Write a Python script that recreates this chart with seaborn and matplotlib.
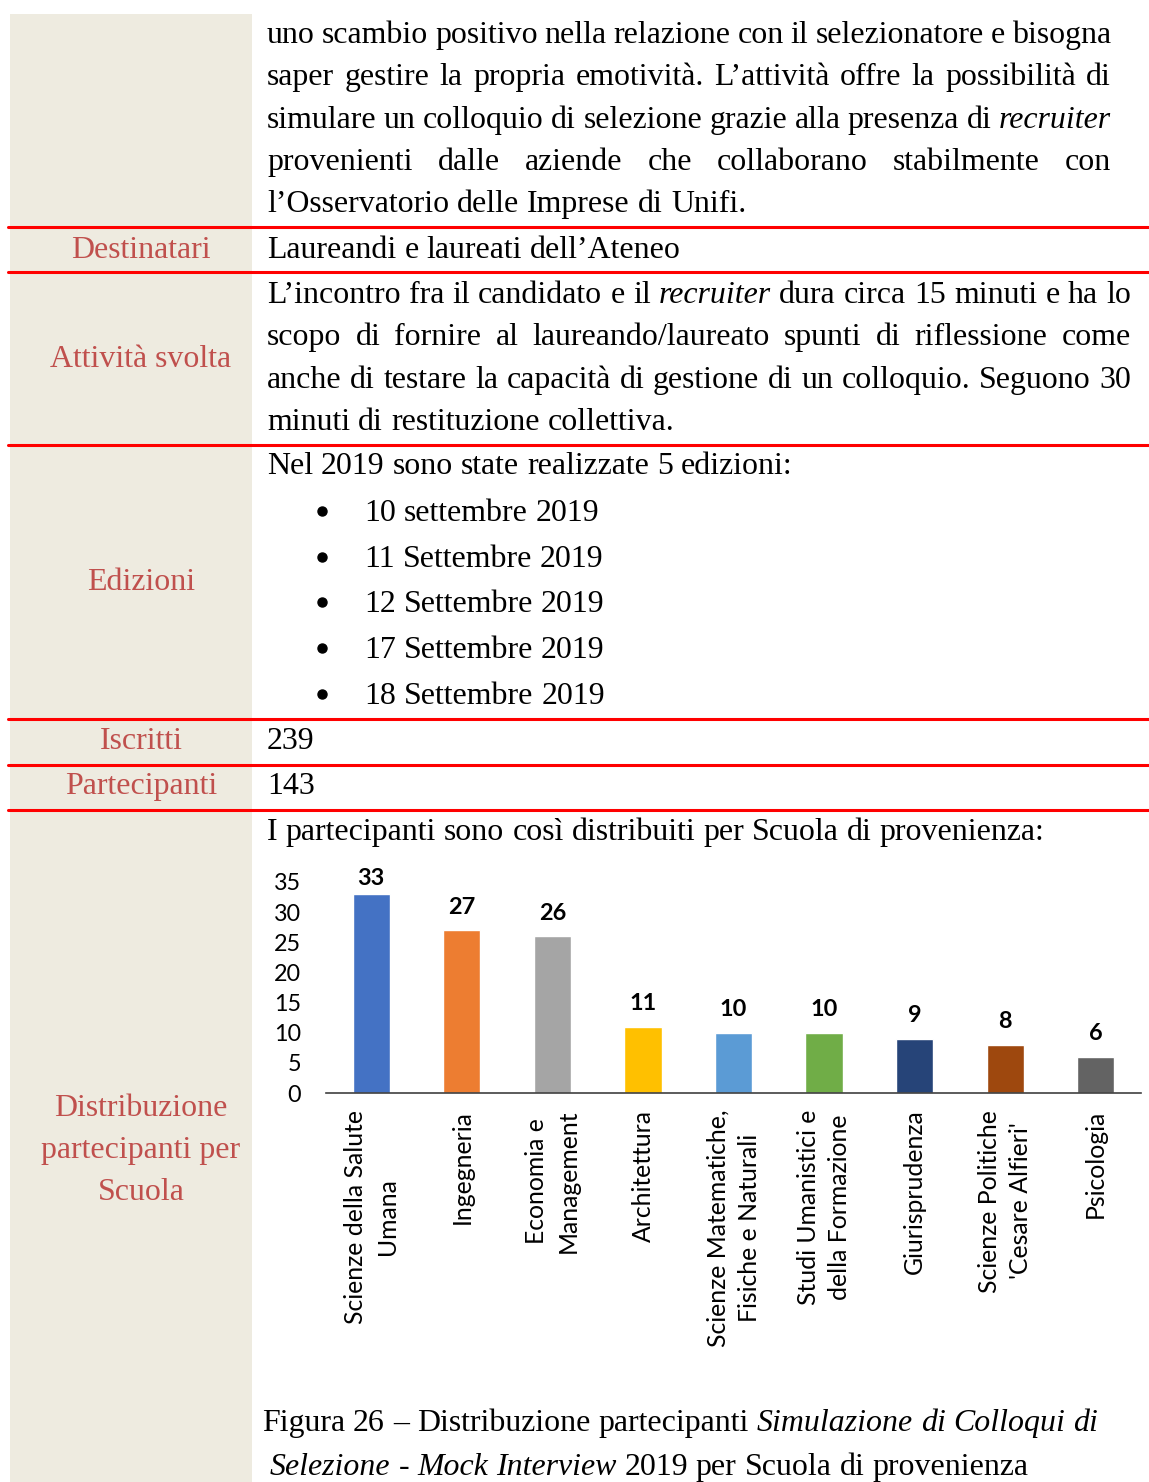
import matplotlib
matplotlib.use("Agg")
import matplotlib.pyplot as plt
from matplotlib.patches import Rectangle
import pandas as pd
import seaborn as sns

# dati del grafico
scuole = ["Scienze della Salute\nUmana", "Ingegneria", "Economia e\nManagement",
          "Architettura", "Scienze Matematiche,\nFisiche e Naturali",
          "Studi Umanistici e\ndella Formazione", "Giurisprudenza",
          "Scienze Politiche\n'Cesare Alfieri'", "Psicologia"]
partecipanti = [33, 27, 26, 11, 10, 10, 9, 8, 6]
colori = ["#4472C4", "#ED7D31", "#A5A5A5", "#FFC000", "#5B9BD5",
          "#70AD47", "#264478", "#9E480E", "#636363"]
y_ticks = [0, 5, 10, 15, 20, 25, 30, 35]

# testo della tabella (*...* = corsivo)
paragrafo_1 = ["uno scambio positivo nella relazione con il selezionatore e bisogna",
               "saper gestire la propria emotività. L’attività offre la possibilità di",
               "simulare un colloquio di selezione grazie alla presenza di *recruiter*",
               "provenienti dalle aziende che collaborano stabilmente con",
               "l’Osservatorio delle Imprese di Unifi."]
paragrafo_2 = ["L’incontro fra il candidato e il *recruiter* dura circa 15 minuti e ha lo",
               "scopo di fornire al laureando/laureato spunti di riflessione come",
               "anche di testare la capacità di gestione di un colloquio. Seguono 30",
               "minuti di restituzione collettiva."]
edizioni = ["10 settembre 2019", "11 Settembre 2019", "12 Settembre 2019",
            "17 Settembre 2019", "18 Settembre 2019"]
didascalia = ["Figura 26 – Distribuzione partecipanti *Simulazione di Colloqui di*",
              "*Selezione - Mock Interview* 2019 per Scuola di provenienza"]

SERIF = ["Liberation Serif", "DejaVu Serif"]
ROSSO = "#C0504D"

sns.set_theme(style="white")
plt.rcParams["font.family"] = ["Lato", "DejaVu Sans"]

W, H = 1149, 1482
fig = plt.figure(figsize=(W / 100, H / 100), dpi=100)
page = fig.add_axes([0, 0, 1, 1])
page.set_xlim(0, W)
page.set_ylim(H, 0)
page.axis("off")
renderer = fig.canvas.get_renderer()


def larghezza(s, size, **kw):
    t = page.text(0, 0, s, fontsize=size, **kw)
    w = t.get_window_extent(renderer).width
    t.remove()
    return w


def adatta(s, target, **kw):
    return 20 * target / larghezza(s, 20, **kw)


def riga(testo, x0, y, size, x1=None):
    parole = []
    corsivo = False
    for p in testo.split():
        if p.startswith("*"):
            corsivo = True
            p = p[1:]
        fine = p.endswith("*")
        if fine:
            p = p[:-1]
        parole.append((p, "italic" if corsivo else "normal"))
        if fine:
            corsivo = False
    larg = [larghezza(p, size, family=SERIF, fontstyle=st) for p, st in parole]
    if x1 is not None and len(parole) > 1:
        spazio = (x1 - x0 - sum(larg)) / (len(parole) - 1)
    else:
        spazio = larghezza("a a", size, family=SERIF) - larghezza("aa", size, family=SERIF)
    x = x0
    for (p, st), w in zip(parole, larg):
        page.text(x, y, p, fontsize=size, family=SERIF, fontstyle=st,
                  va="baseline", ha="left", color="black")
        x += w + spazio


def etichetta(testo, y, size):
    page.text(141, y, testo, fontsize=size, family=SERIF, color=ROSSO,
              ha="center", va="baseline")


corpo = adatta("I partecipanti sono così distribuiti per Scuola di provenienza:", 779, family=SERIF)
rosso = adatta("partecipanti per", 199, family=SERIF)
cap = adatta("Figura 26 – Distribuzione partecipanti", 488, family=SERIF)

# colonna sinistra e linee rosse
page.add_patch(Rectangle((10, 14), 242, H - 14, color="#EEEBE0", zorder=0, lw=0))
for yl in [227, 272, 445, 719, 765, 810]:
    page.plot([8, W], [yl, yl], color="#FF0000", lw=2.2, zorder=2)

for i, t in enumerate(paragrafo_1):
    riga(t, 267, 43 + i * 42.3, corpo, x1=1111 if i < 4 else None)

etichetta("Destinatari", 258, rosso)
riga("Laureandi e laureati dell’Ateneo", 267, 258, corpo)

etichetta("Attività svolta", 367, rosso)
for i, t in enumerate(paragrafo_2):
    riga(t, 267, 303 + i * 42.3, corpo, x1=1131 if i < 3 else None)

etichetta("Edizioni", 590, rosso)
riga("Nel 2019 sono state realizzate 5 edizioni:", 267, 474, corpo)
for i, t in enumerate(edizioni):
    yb = 521 + i * 45.7
    page.plot(322, yb - 10, "o", ms=6.5, color="black")
    riga(t, 364, yb, corpo)

etichetta("Iscritti", 749, rosso)
riga("239", 267, 749, corpo)
etichetta("Partecipanti", 794, rosso)
riga("143", 267, 794, corpo)

riga("I partecipanti sono così distribuiti per Scuola di provenienza:", 267, 840, corpo)
for i, t in enumerate(["Distribuzione", "partecipanti per", "Scuola"]):
    etichetta(t, 1116 + i * 42, rosso)

riga(didascalia[0], 262, 1431, cap)
riga(didascalia[1], 270, 1475, cap)

# grafico a barre
tick_x = adatta("Giurisprudenza", 165)
tick_y = adatta("35", 27)
val = adatta("33", 27, fontweight="bold")

ax = fig.add_axes([326 / W, 1 - 1093 / H, (1141 - 326) / W, (1093 - 882) / H])
df = pd.DataFrame({"scuola": scuole, "n": partecipanti})
sns.barplot(data=df, x="scuola", y="n", hue="scuola", palette=colori,
            saturation=1, width=0.41, legend=False, ax=ax)
ax.set_facecolor("none")
ax.set_xlim(-0.5, 8.5)
ax.set_ylim(0, 35)
ax.set_yticks(y_ticks)
ax.set_xlabel("")
ax.set_ylabel("")
for s in ["left", "right", "top"]:
    ax.spines[s].set_visible(False)
ax.spines["bottom"].set_color("#404040")
ax.spines["bottom"].set_linewidth(1.2)
ax.tick_params(length=0)
ax.tick_params(axis="y", pad=18, labelsize=tick_y, labelcolor="black")
ax.tick_params(axis="x", pad=12, labelsize=tick_x, labelcolor="black")
for lab in ax.get_xticklabels():
    lab.set(rotation=90, ha="center", va="top", multialignment="center", linespacing=1.45)
for c in ax.containers:
    # l'etichetta più alta in Excel sta più vicina alla barra
    ax.bar_label(c, padding=4 if max(c.datavalues) > 30 else 9,
                 fontsize=val, fontweight="bold", color="black")

fig.savefig("out.png", dpi=100)
